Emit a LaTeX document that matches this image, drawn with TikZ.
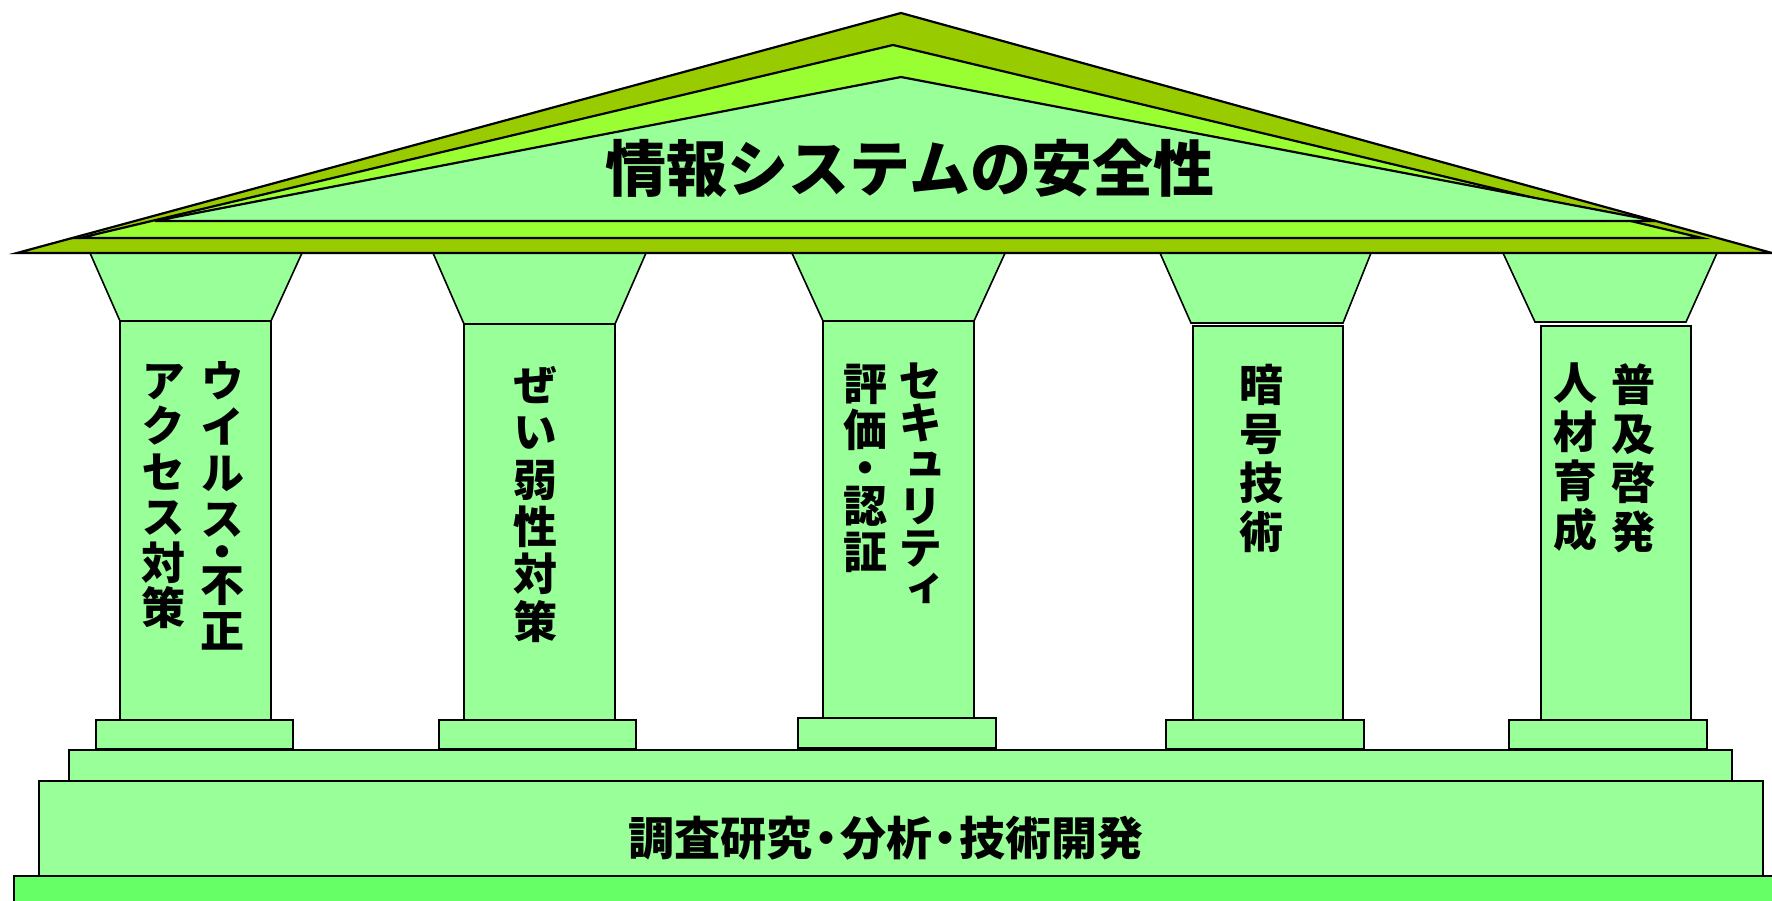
\documentclass[tikz,border=0pt]{standalone}
\usepackage{fontspec}
\newfontfamily\jp{Noto Sans CJK JP}
\newfontfamily\jpv{Noto Sans CJK JP}[RawFeature=+vert]
\definecolor{roofdark}{HTML}{99CC00}
\definecolor{roofmid}{HTML}{99FF33}
\definecolor{lg}{HTML}{99FF99}
\definecolor{baseg}{HTML}{66FF66}
\setlength{\lineskiplimit}{-100pt}
\tikzset{
  roofpart/.style={draw=black, line width=2.2pt, line join=miter},
  part/.style={fill=lg, draw=black, line width=1.6pt},
  coltext/.style={font=\jpv\bfseries\fontsize{44}{#1}\selectfont, align=center, inner sep=0pt, anchor=north},
}
\begin{document}
\begin{tikzpicture}[x=1pt,y=-1pt]
\useasboundingbox (0,0) rectangle (1772,900);
\clip (0,0) rectangle (1772,900);
% base
\draw[fill=baseg, draw=black, line width=1.6pt] (14,876) rectangle (1790,920);
\draw[part] (39,781) rectangle (1763,876);
\draw[part] (69,750) rectangle (1732,781);
% plinths
\draw[part] (96,720) rectangle (293,749);
\draw[part] (439,720) rectangle (636,749);
\draw[part] (798,718) rectangle (996,748);
\draw[part] (1166,720) rectangle (1364,749);
\draw[part] (1509,720) rectangle (1707,749);
% shafts
\draw[part] (120,321) rectangle (271,720);
\draw[part] (464,324) rectangle (615,720);
\draw[part] (823,321) rectangle (974,718);
\draw[part] (1193,326) rectangle (1343,720);
\draw[part] (1541,326) rectangle (1691,720);
% capitals
\draw[part] (90,253) -- (302,253) -- (271,321) -- (120,321) -- cycle;
\draw[part] (433,253) -- (646,253) -- (615,324) -- (464,324) -- cycle;
\draw[part] (791,251) -- (1006,251) -- (974,321) -- (823,321) -- cycle;
\draw[part] (1160,253) -- (1371,253) -- (1343,323) -- (1191,323) -- cycle;
\draw[part] (1503,253) -- (1717,253) -- (1686,322) -- (1535,322) -- cycle;
% roof
\draw[roofpart, fill=roofdark] (17,253) -- (901,13) -- (1772,253) -- cycle;
\draw[roofpart, fill=roofmid] (80,238) -- (893,45) -- (1702,238) -- cycle;
\draw[roofpart, fill=lg] (155,221) -- (901,77) -- (1656,221) -- cycle;
% title
\node[font=\jp\bfseries\fontsize{61}{64}\selectfont, inner sep=0pt] (title) at (910,168) {情報システムの安全性};
% base text
\node[font=\jp\bfseries\fontsize{46}{50}\selectfont, inner sep=0pt] (basetext) at (886,838)
  {調査研究\makebox[0.6em][c]{・}分析\makebox[0.6em][c]{・}技術開発};
% pillar texts
\node[coltext=46pt] (p1r) at (222,361) {ウ\\イ\\ル\\ス\\[-13pt]・\\[-13pt]不\\正};
\node[coltext=45.4pt] (p1l) at (163,364) {ア\\ク\\セ\\ス\\対\\策};
\node[coltext=47.4pt] (p2) at (535,366) {ぜ\\い\\弱\\性\\対\\策};
\node[coltext=41.6pt] (p3r) at (920,363) {セ\\キ\\ュ\\リ\\テ\\ィ};
\node[coltext=46pt] (p3l) at (865,364) {評\\価\\[-8pt]・\\[-8pt]認\\証};
\node[coltext=49pt] (p4) at (1261,364) {暗\\号\\技\\術};
\node[coltext=49pt] (p5r) at (1633,363) {普\\及\\啓\\発};
\node[coltext=49pt] (p5l) at (1575,363) {人\\材\\育\\成};
\end{tikzpicture}
\end{document}
